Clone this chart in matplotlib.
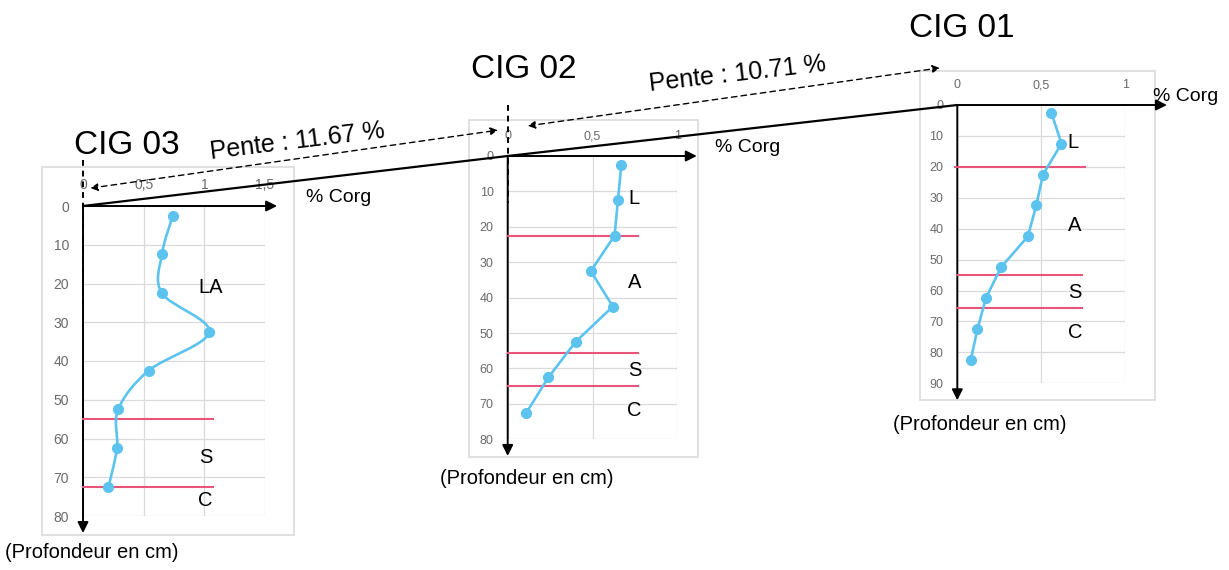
import matplotlib.pyplot as plt
from matplotlib.path import Path
from matplotlib.patches import PathPatch, Rectangle, ConnectionPatch

plt.rcParams['font.family'] = ['Liberation Sans', 'DejaVu Sans']

# ----------------------------
# Data
# ----------------------------
depth_03 = [2.5, 12.5, 22.5, 32.5, 42.5, 52.5, 62.5, 72.5]
corg_03 = [0.74, 0.65, 0.65, 1.04, 0.54, 0.29, 0.28, 0.21]
limits_03 = [55, 72.5]
horizons_03 = ["LA", "S", "C"]

depth_02 = [2.5, 12.5, 22.5, 32.5, 42.5, 52.5, 62.5, 72.5]
corg_02 = [0.67, 0.65, 0.63, 0.49, 0.62, 0.40, 0.24, 0.11]
limits_02 = [22.5, 55.5, 65]
horizons_02 = ["L", "A", "S", "C"]

depth_01 = [2.5, 12.5, 22.5, 32.5, 42.5, 52.5, 62.5, 72.5, 82.5]
corg_01 = [0.56, 0.62, 0.51, 0.47, 0.42, 0.26, 0.17, 0.12, 0.08]
limits_01 = [20, 55, 65.5]
horizons_01 = ["L", "A", "S", "C"]

xticks_03 = [0, 0.5, 1, 1.5]
xticks_02 = [0, 0.5, 1]
xticks_01 = [0, 0.5, 1]
yticks_80 = [0, 10, 20, 30, 40, 50, 60, 70, 80]
yticks_90 = [0, 10, 20, 30, 40, 50, 60, 70, 80, 90]

slope_03_02 = "Pente : 11.67 %"
slope_02_01 = "Pente : 10.71 %"

BLUE = "#5cc3ef"
RED = "#e8557a"
GRID = "#dadada"


def fmt(v):
    return ("%g" % v).replace(".", ",")


def smooth_path(xs, ys):
    # Catmull-Rom style bezier through the points (like a smoothed line)
    pts = list(zip(xs, ys))
    verts = [pts[0]]
    codes = [Path.MOVETO]
    n = len(pts)
    for i in range(n - 1):
        p0 = pts[i - 1] if i > 0 else pts[i]
        p1 = pts[i]
        p2 = pts[i + 1]
        p3 = pts[i + 2] if i + 2 < n else pts[i + 1]
        c1 = (p1[0] + (p2[0] - p0[0]) / 6, p1[1] + (p2[1] - p0[1]) / 6)
        c2 = (p2[0] - (p3[0] - p1[0]) / 6, p2[1] - (p3[1] - p1[1]) / 6)
        verts += [c1, c2, p2]
        codes += [Path.CURVE4] * 3
    return Path(verts, codes)


def panel(rect, xticks, yticks, tick_fs):
    ax = fig.add_axes(rect)
    ax.set_facecolor("none")
    ax.set_xlim(xticks[0], xticks[-1])
    ax.set_ylim(yticks[-1], yticks[0])
    ax.set_xticks(xticks)
    ax.set_xticklabels([fmt(v) for v in xticks])
    ax.set_yticks(yticks)
    ax.set_yticklabels([fmt(v) for v in yticks])
    ax.xaxis.tick_top()
    ax.tick_params(length=0, pad=10, labelsize=tick_fs, labelcolor="#6a6a6a")
    ax.grid(True, color=GRID, lw=0.9)
    for s in ax.spines.values():
        s.set_visible(False)
    return ax


def decorate(ax, frame, x_end, y_end, limits, red_end, horizons, hpos,
             title, title_pos, corg_pos, prof_pos, vdash=None):
    x0, x1, y0, y1 = frame
    ax.add_patch(Rectangle((x0, y0), x1 - x0, y1 - y0, fill=False,
                           ec=GRID, lw=1.2, clip_on=False, zorder=0))
    ax.annotate("", xy=(x_end, 0), xytext=(0, 0), annotation_clip=False,
                arrowprops=dict(arrowstyle="-|>", color="k", lw=1.4,
                                mutation_scale=16, shrinkA=0, shrinkB=0))
    ax.annotate("", xy=(0, y_end), xytext=(0, 0), annotation_clip=False,
                arrowprops=dict(arrowstyle="-|>", color="k", lw=1.4,
                                mutation_scale=16, shrinkA=0, shrinkB=0))
    if vdash is not None:
        ax.plot([0, 0], vdash, color="k", lw=1.4, ls=(0, (3, 2.5)),
                clip_on=False, zorder=5)
    for d, xe in zip(limits, red_end):
        ax.plot([xe[0], xe[1]], [d, d], color=RED, lw=1.5, clip_on=False,
                zorder=3)
    for lab, (hx, hy) in zip(horizons, hpos):
        ax.text(hx, hy, lab, fontsize=14.5, ha="center", va="center")
    ax.text(title_pos[0], title_pos[1], title, fontsize=24, ha="center",
            va="center", clip_on=False)
    ax.text(corg_pos[0], corg_pos[1], "% Corg", fontsize=14, ha="left",
            va="center")
    ax.text(prof_pos[0], prof_pos[1], "(Profondeur en cm)", fontsize=14.5,
            ha="left", va="center")


fig = plt.figure(figsize=(12.29, 5.70), dpi=100)

# ----------------------------
# CIG 03
# ----------------------------
ax3 = panel([83 / 1229, 54 / 570, 182 / 1229, 310 / 570], xticks_03, yticks_80, 10)
ax3.add_patch(PathPatch(smooth_path(corg_03, depth_03), fill=False,
                        ec=BLUE, lw=1.9, zorder=4))
ax3.plot(corg_03, depth_03, "o", color=BLUE, ms=7, zorder=4)
decorate(ax3, (-0.339, 1.736, -10.06, 84.9), 1.6, 84.4, limits_03,
         [(0, 1.07), (0, 1.07)], horizons_03,
         [(1.055, 21), (1.01, 65), (1.01, 76)],
         "CIG 03", (0.36, -15.7), (1.835, -2.3), (-0.645, 89.5),
         vdash=[-12, 25.5])

# ----------------------------
# CIG 02
# ----------------------------
ax2 = panel([507.7 / 1229, 130.7 / 570, 169.6 / 1229, 283.3 / 570], xticks_02, yticks_80, 9)
ax2.plot(corg_02, depth_02, "-o", color=BLUE, lw=1.9, ms=7, zorder=4)
decorate(ax2, (-0.228, 1.121, -10.2, 85), 1.115, 84.7, limits_02,
         [(0, 0.77)] * 3, horizons_02,
         [(0.744, 12), (0.748, 35.6), (0.748, 60.5), (0.748, 72)],
         "CIG 02", (0.096, -24.3), (1.22, -2.5), (-0.4, 91),
         vdash=[-14.4, 13.3])

# ----------------------------
# CIG 01
# ----------------------------
ax1 = panel([957.3 / 1229, 186.7 / 570, 168 / 1229, 278.3 / 570], xticks_01, yticks_90, 9)
ax1.plot(corg_01, depth_01, "-o", color=BLUE, lw=1.9, ms=7, zorder=4)
decorate(ax1, (-0.222, 1.176, -11, 95.5), 1.248, 95.5, limits_01,
         [(-0.014, 0.76), (0, 0.74), (0, 0.74)], horizons_01,
         [(0.69, 12), (0.70, 39), (0.70, 60.5), (0.70, 73.5)],
         "CIG 01", (0.028, -24.9), (1.165, -2.9), (-0.383, 103.2))

# ----------------------------
# Slope lines between profiles
# ----------------------------
for a, b in [(ax3, ax2), (ax2, ax1)]:
    fig.add_artist(ConnectionPatch(xyA=(0, 0), coordsA=a.transData,
                                   xyB=(0, 0), coordsB=b.transData,
                                   color="k", lw=1.6, zorder=6))

fig.add_artist(ConnectionPatch(xyA=(0.06, -4.6), coordsA=ax3.transData,
                               xyB=(-0.057, -7.3), coordsB=ax2.transData,
                               arrowstyle="<|-|>", mutation_scale=11,
                               ls=(0, (4, 3)), color="k", lw=1, zorder=6))
fig.add_artist(ConnectionPatch(xyA=(0.118, -8.5), coordsA=ax2.transData,
                               xyB=(-0.103, -12), coordsB=ax1.transData,
                               arrowstyle="<|-|>", mutation_scale=11,
                               ls=(0, (4, 3)), color="k", lw=1, zorder=6))

ax2.text(-1.24, -4.0, slope_03_02, fontsize=18, rotation=7,
         rotation_mode="anchor", ha="center", va="center")
ax2.text(1.357, -23.3, slope_02_01, fontsize=18, rotation=6.5,
         rotation_mode="anchor", ha="center", va="center")

fig.savefig("out.png", dpi=100)
plt.close(fig)
